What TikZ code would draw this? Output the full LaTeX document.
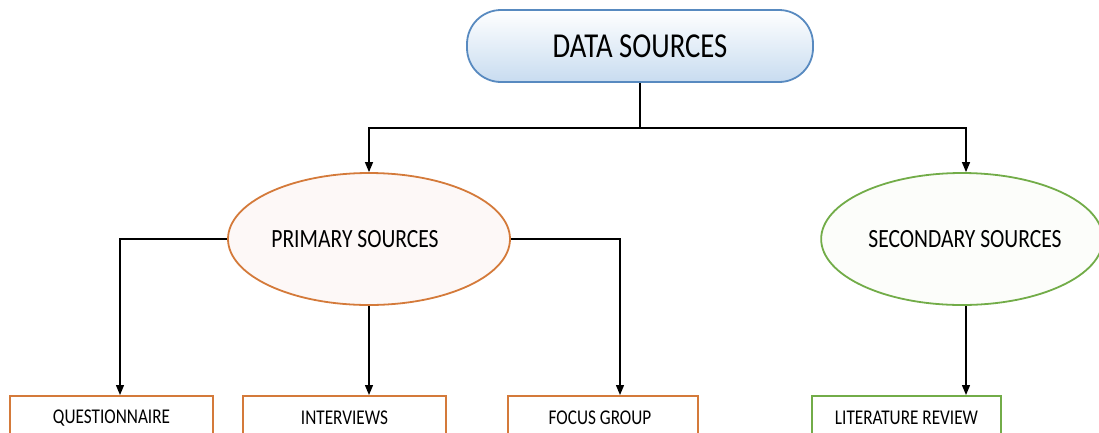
\documentclass[tikz,border=0pt]{standalone}
\usepackage{fontspec}
\setmainfont{Carlito}[FakeStretch=0.82]
\usetikzlibrary{arrows.meta,shapes.geometric,calc}
\definecolor{blueline}{RGB}{88,138,192}
\definecolor{bluefill}{RGB}{200,220,240}
\definecolor{orangeline}{RGB}{212,122,58}
\definecolor{greenline}{RGB}{114,172,72}
\definecolor{pinkfill}{RGB}{253,248,247}
\definecolor{greenfill}{RGB}{252,253,250}
\tikzset{
  topbox/.style={draw=blueline, line width=1.8pt, rounded corners=34pt,
    top color=white, bottom color=bluefill, minimum width=346pt,
    minimum height=72pt, inner sep=0pt, font=\fontsize{35}{39}\selectfont},
  primell/.style={ellipse, draw=orangeline, line width=1.8pt, fill=pinkfill,
    minimum width=282pt, minimum height=132pt, inner sep=0pt,
    font=\fontsize{26.3}{30}\selectfont},
  secell/.style={ellipse, draw=greenline, line width=1.8pt, fill=greenfill,
    minimum width=278pt, minimum height=132pt, inner sep=0pt,
    font=\fontsize{26.3}{30}\selectfont},
  leafbox/.style={draw, line width=1.8pt, fill=white, anchor=north,
    minimum height=44pt, inner sep=0pt, font=\fontsize{21}{24}\selectfont},
  conn/.style={draw=black, line width=1.3pt,
    -{Triangle[length=10pt,width=8pt]}},
}
\begin{document}
\begin{tikzpicture}[x=1pt, y=-1pt]
  \useasboundingbox (0,0) rectangle (1099,432);
  \clip (0,0) rectangle (1099,432);

  % root
  \node[topbox] (ds) at (640,46) {DATA SOURCES};

  % second level
  \node[primell] (ps) at (369,239) {PRIMARY SOURCES\hspace*{28pt}};
  \node[secell] (ss) at (962,239) {\hspace*{6pt}SECONDARY SOURCES};

  % leaves
  \node[leafbox, draw=orangeline, minimum width=203pt] (q) at (111.5,395) {QUESTIONNAIRE};
  \node[leafbox, draw=orangeline, minimum width=203pt] (iv) at (344.5,395) {INTERVIEWS};
  \node[leafbox, draw=orangeline, minimum width=190pt] (fg) at (603,395) {FOCUS GROUP\hspace*{6pt}};
  \node[leafbox, draw=greenline, minimum width=189pt] (lr) at (906.5,395) {LITERATURE REVIEW};

  % connectors
  \coordinate (split) at (640,128);
  \draw[conn] (ds.south) -- (split) -| (ps.north);
  \draw[conn] (split) -| ([xshift=4pt]ss.north);
  \draw[conn] (ps.west) -| ([xshift=8.5pt]q.north);
  \draw[conn] (ps.south) -- ([xshift=24.5pt]iv.north);
  \draw[conn] (ps.east) -| ([xshift=17pt]fg.north);
  \draw[conn] ([xshift=4pt]ss.south) -- ([xshift=59.5pt]lr.north);
\end{tikzpicture}
\end{document}
